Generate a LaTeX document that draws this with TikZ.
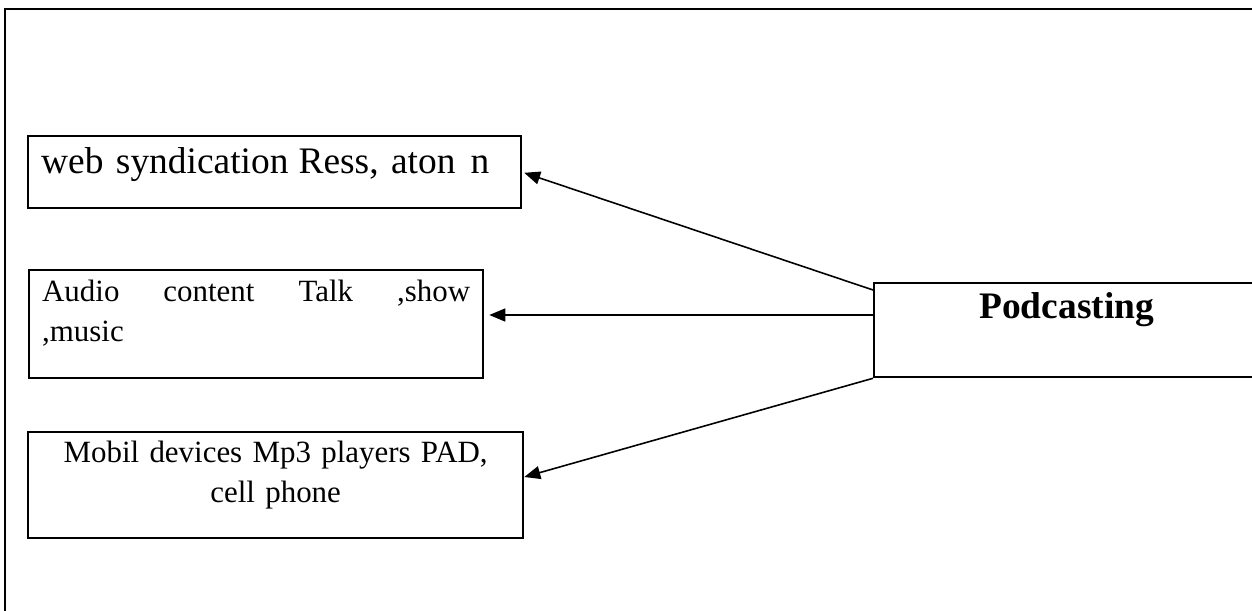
\documentclass[tikz,border=0pt]{standalone}
\usepackage{fontspec}
\setmainfont{Liberation Serif}
\usetikzlibrary{arrows.meta}

\begin{document}
\begin{tikzpicture}[>={Triangle[length=0.32cm,width=0.26cm]},
     box/.style={draw,line width=1.3pt,anchor=north west,inner xsep=0.26cm,inner ysep=0pt,
                 font=\fontsize{17.6pt}{22.7pt}\selectfont},
     big/.style={font=\fontsize{21.3pt}{26pt}\selectfont},
     link/.style={->,line width=0.9pt}]
    \useasboundingbox (0,0) rectangle (25.04,12.2);
    \clip (0,0) rectangle (25.04,12.2);
    % page frame
    \draw[line width=0.8pt] (0.10,-0.2) -- (0.10,12.02) -- (25.3,12.02);
    \node[box,big,align=left,text width=9.34cm,text height=0.74cm,text depth=0.7cm] (web) at (0.54,9.50)
        {\mbox{web syndication\hspace{0.2cm}Ress, aton\hspace{0.3cm}n}};
    \node[box,align=left,text width=8.56cm,text height=0.62cm,text depth=1.54cm] (aud) at (0.56,6.82)
        {\makebox[8.56cm][l]{Audio\hfill content\hfill Talk\hfill ,show}\\,music};
    \node[box,align=center,text width=9.38cm,text height=0.6cm,text depth=1.52cm] (mob) at (0.54,3.58)
        {Mobil devices Mp3 players PAD,\\ cell phone};
    \node[box,big,align=center,text width=7.18cm,text height=0.7cm,text depth=1.18cm] (pod) at (17.46,6.56)
        {\textbf{Podcasting}};
    \draw[link,shorten >=0.04cm] (pod.north west |- 0,6.40) -- (web.east);
    \draw[link,shorten >=0.1cm] (pod.west |- 0,5.90) -- (aud.east |- 0,5.90);
    \draw[link] (pod.south west) -- (mob.east |- 0,2.66);
\end{tikzpicture}
\end{document}
